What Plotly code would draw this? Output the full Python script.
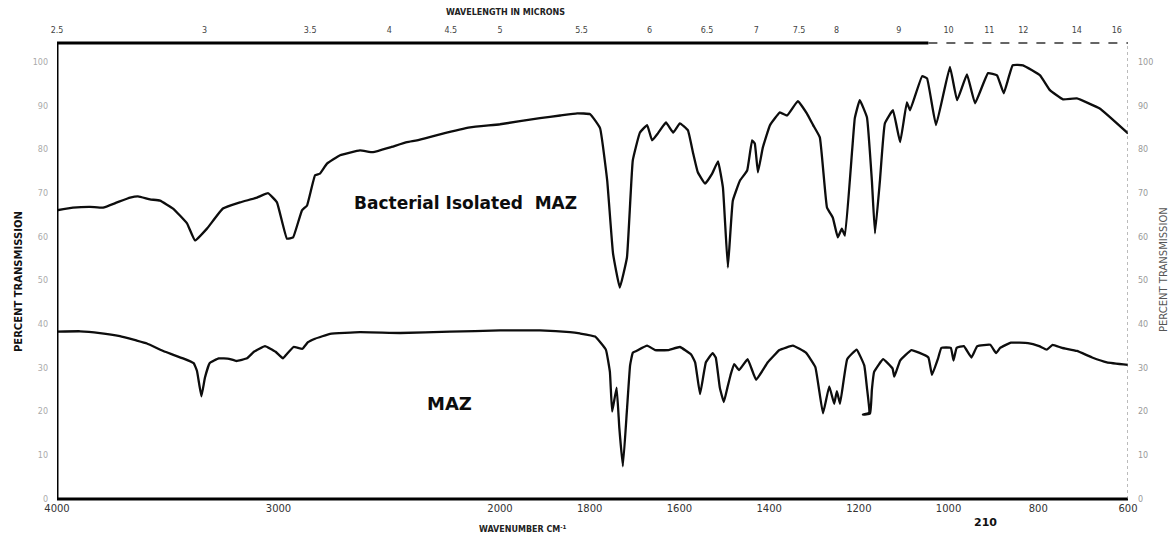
import plotly.graph_objects as go

# ---------------- data ----------------
bact_wn = [4000, 3928, 3851, 3792, 3729, 3670, 3634, 3580, 3535, 3476, 3413, 3377, 3323, 3251,
           3174, 3097, 3047, 3007, 2962, 2934, 2894, 2871, 2835, 2813, 2781, 2722, 2632, 2573,
           2497, 2420, 2375, 2271, 2135, 2000, 1911, 1866, 1828, 1799, 1777, 1761, 1748, 1733,
           1717, 1704, 1688, 1672, 1661, 1648, 1630, 1614, 1599, 1581, 1570, 1559, 1543, 1527,
           1514, 1503, 1492, 1481, 1465, 1449, 1438, 1432, 1425, 1414, 1398, 1376, 1360, 1336,
           1316, 1302, 1287, 1271, 1258, 1247, 1238, 1231, 1215, 1209, 1198, 1182, 1171, 1164,
           1153, 1142, 1124, 1108, 1093, 1086, 1059, 1048, 1028, 997, 981, 959, 941, 912, 892,
           877, 857, 834, 796, 774, 745, 714, 663, 600]
bact_t = [66.1, 66.7, 66.9, 66.7, 67.9, 69.0, 69.3, 68.6, 68.3, 66.5, 63.1, 59.2, 61.9, 66.5,
          67.9, 69.0, 70.0, 67.9, 59.6, 59.9, 66.1, 67.2, 74.1, 74.5, 76.8, 78.7, 79.8, 79.4,
          80.5, 81.7, 82.1, 83.5, 85.1, 85.8, 87.2, 87.8, 88.3, 88.1, 84.9, 72.9, 56.2, 48.4,
          55.3, 77.5, 83.9, 85.6, 82.1, 83.7, 86.2, 83.9, 86.0, 84.4, 79.4, 74.8, 72.2, 74.5,
          77.3, 71.3, 53.0, 68.3, 72.9, 75.2, 82.1, 81.4, 74.8, 80.5, 85.6, 88.5, 87.8, 91.1,
          88.3, 85.6, 82.8, 66.7, 64.4, 59.9, 61.9, 60.3, 79.8, 87.2, 91.3, 87.4, 72.9, 60.8,
          72.9, 86.0, 89.0, 81.7, 90.8, 89.0, 96.8, 96.3, 85.6, 98.9, 91.3, 97.2, 90.6, 97.5, 97.0,
          92.9, 99.3, 99.3, 97.0, 93.6, 91.5, 91.7, 89.4, 83.7]

maz_wn = [4000, 3896, 3806, 3716, 3642, 3594, 3512, 3431, 3383, 3368, 3348, 3332, 3311, 3270,
          3223, 3190, 3142, 3111, 3061, 3013, 2980, 2964, 2932, 2892, 2867, 2835, 2767, 2632,
          2451, 2226, 2000, 1911, 1844, 1822, 1788, 1764, 1755, 1750, 1740, 1734, 1726, 1717,
          1710, 1704, 1696, 1672, 1654, 1624, 1599, 1574, 1565, 1554, 1541, 1526, 1519, 1510,
          1501, 1493, 1486, 1478, 1467, 1448, 1429, 1403, 1377, 1347, 1318, 1297, 1280, 1266,
          1255, 1249, 1242, 1226, 1205, 1188, 1182, 1177, 1191, 1175, 1171, 1166, 1146, 1125,
          1121, 1108, 1083, 1066, 1045, 1037, 1024, 1016, 995, 989, 982, 966, 949, 936, 907,
          894, 885, 861, 823, 798, 781, 768, 747, 714, 680, 647, 600]
maz_t = [38.3, 38.4, 38.0, 37.3, 36.3, 35.6, 33.7, 32.2, 31.1, 29.3, 23.5, 27.8, 31.1, 32.2,
         32.1, 31.6, 32.2, 33.7, 35.0, 33.7, 32.2, 33.1, 34.8, 34.4, 35.9, 36.7, 37.8, 38.2,
         38.0, 38.3, 38.6, 38.6, 38.2, 37.9, 37.2, 34.2, 29.1, 20.0, 25.5, 16.3, 7.5, 20.4,
         30.6, 33.5, 33.9, 35.1, 34.1, 34.1, 34.8, 33.1, 31.3, 24.0, 31.3, 33.4, 32.4, 25.5,
         22.2, 25.5, 28.4, 30.9, 29.5, 32.0, 27.3, 31.3, 34.1, 35.1, 33.5, 30.2, 19.6, 25.8,
         21.8, 24.7, 21.8, 32.0, 34.2, 30.6, 25.5, 19.8, 19.3, 19.6, 25.0, 29.1, 32.0, 29.9,
         28.0, 31.7, 34.1, 33.5, 32.4, 28.4, 32.0, 34.6, 34.6, 31.7, 34.6, 35.0, 32.4, 35.0, 35.3,
         33.4, 34.6, 35.8, 35.7, 35.0, 34.2, 35.3, 34.6, 33.9, 32.4, 31.3, 30.7]

wn_ticks = [4000, 3000, 2000, 1800, 1600, 1400, 1200, 1000, 800, 600]
um_ticks = [2.5, 3, 3.5, 4, 4.5, 5, 5.5, 6, 6.5, 7, 7.5, 8, 9, 10, 11, 12, 14, 16]
um_labels = ["2.5", "3", "3.5", "4", "4.5", "5", "5.5", "6", "6.5", "7", "7.5", "8",
             "9", "10", "11", "12", "14", "16"]
pt_ticks = [0, 10, 20, 30, 40, 50, 60, 70, 80, 90, 100]

# ---------------- chart-paper abscissa (scale change at 2000 cm-1) ----------------
HIGH_SPAN = 443.0   # 4000 -> 2000 cm-1
LOW_SPAN = 628.0    # 2000 -> 600 cm-1
X_MAX = HIGH_SPAN + LOW_SPAN


def pos(wn):
    if wn >= 2000:
        return (4000.0 - wn) * HIGH_SPAN / 2000.0
    return HIGH_SPAN + (2000.0 - wn) * LOW_SPAN / 1400.0


Y_MAX = 104.4
FONT = "DejaVu Sans"

fig = go.Figure()
for wn, t in ((bact_wn, bact_t), (maz_wn, maz_t)):
    fig.add_trace(go.Scatter(x=[pos(w) for w in wn], y=t, mode="lines",
                             line=dict(color="#0d0d0d", width=2.3, shape="spline", smoothing=0.3),
                             hoverinfo="skip", showlegend=False))
# invisible trace that carries the secondary (top / right) axes
fig.add_trace(go.Scatter(x=[0, X_MAX], y=[0, Y_MAX], xaxis="x2", yaxis="y2", mode="markers",
                         marker=dict(opacity=0), hoverinfo="skip", showlegend=False))

fig.update_layout(
    width=1171, height=535,
    margin=dict(l=57, r=43, t=43, b=36),
    paper_bgcolor="white", plot_bgcolor="white",
    font=dict(family=FONT, color="#222222"),
    xaxis=dict(range=[0, X_MAX], tickvals=[pos(w) for w in wn_ticks],
               ticktext=[str(w) for w in wn_ticks], showgrid=False, zeroline=False,
               ticks="", showline=False, tickfont=dict(size=10, color="#333333"),
               ticklabelstandoff=2),
    yaxis=dict(range=[0, Y_MAX], tickvals=pt_ticks, ticktext=[str(v) for v in pt_ticks],
               showgrid=False, zeroline=False, ticks="", showline=False,
               tickfont=dict(size=8, color="#aaaaaa"), ticklabelstandoff=8),
    xaxis2=dict(range=[0, X_MAX], overlaying="x", side="top",
                tickvals=[pos(10000.0 / u) for u in um_ticks], ticktext=um_labels,
                showgrid=False, zeroline=False, ticks="", showline=False,
                tickfont=dict(size=8, color="#444444"), ticklabelstandoff=7),
    yaxis2=dict(range=[0, Y_MAX], overlaying="y", side="right", tickvals=pt_ticks,
                ticktext=[str(v) for v in pt_ticks], showgrid=False, zeroline=False,
                ticks="", showline=False, tickfont=dict(size=8, color="#999999"),
                ticklabelstandoff=9),
)

# frame of the chart paper
split = pos(1045)
fig.add_shape(type="line", xref="x", yref="paper", x0=0, x1=0, y0=0, y1=1,
              line=dict(color="black", width=3))
fig.add_shape(type="line", xref="paper", yref="paper", x0=0, x1=1, y0=0, y1=0,
              line=dict(color="black", width=3))
fig.add_shape(type="line", xref="x", yref="paper", x0=0, x1=split, y0=1, y1=1,
              line=dict(color="black", width=3))
fig.add_shape(type="line", xref="x", yref="paper", x0=split, x1=X_MAX, y0=1, y1=1,
              line=dict(color="#333333", width=1.3, dash="dash"))
fig.add_shape(type="line", xref="x", yref="paper", x0=X_MAX, x1=X_MAX, y0=0, y1=1,
              line=dict(color="#777777", width=1, dash="dot"))

ann = [
    dict(text="Bacterial Isolated  MAZ", x=465, y=203, size=17, color="#0d0d0d", bold=True),
    dict(text="MAZ", x=450, y=403, size=18, color="#0d0d0d", bold=True),
    dict(text="WAVELENGTH IN MICRONS", x=505, y=13, size=8, color="#222222", bold=True),
    dict(text="WAVENUMBER CM<sup>-1</sup>", x=523, y=529, size=8, color="#222222", bold=True),
    dict(text="210", x=985, y=522, size=11, color="#111111", bold=True),
]
for a in ann:
    txt = "<b>%s</b>" % a["text"] if a["bold"] else a["text"]
    fig.add_annotation(text=txt, xref="paper", yref="paper",
                       x=(a["x"] - 57) / 1071.0, y=(499 - a["y"]) / 456.0,
                       showarrow=False, xanchor="center", yanchor="middle",
                       font=dict(family=FONT, size=a["size"], color=a["color"]))

fig.add_annotation(text="<b>PERCENT TRANSMISSION</b>", xref="paper", yref="paper",
                   x=(18 - 57) / 1071.0, y=(499 - 282) / 456.0, textangle=-90,
                   showarrow=False, xanchor="center", yanchor="middle",
                   font=dict(family=FONT, size=10, color="#111111"))
fig.add_annotation(text="PERCENT TRANSMISSION", xref="paper", yref="paper",
                   x=(1163 - 57) / 1071.0, y=(499 - 270) / 456.0, textangle=-90,
                   showarrow=False, xanchor="center", yanchor="middle",
                   font=dict(family=FONT, size=10, color="#555555"))

fig.write_html("out.html")
